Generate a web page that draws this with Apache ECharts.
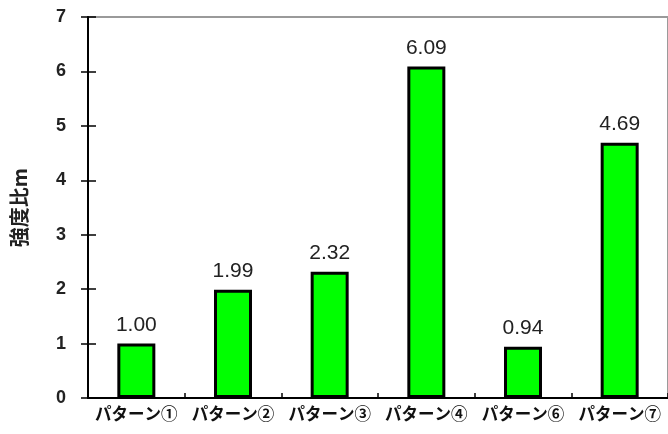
<!DOCTYPE html>
<html>
<head>
<meta charset="utf-8">
<script src="https://cdn.jsdelivr.net/npm/echarts@6/dist/echarts.min.js"></script>
<style>
  html, body { margin: 0; padding: 0; background: #fff; }
  #chart { width: 668px; height: 434px; }
</style>
</head>
<body>
<div id="chart"></div>
<script>
// Strength ratio per pattern
const categories = ['パターン①', 'パターン②', 'パターン③', 'パターン④', 'パターン⑥', 'パターン⑦'];
const ratios = [1.00, 1.99, 2.32, 6.09, 0.94, 4.69];
const yTicks = [0, 1, 2, 3, 4, 5, 6, 7];

const chart = echarts.init(document.getElementById('chart'));
const labelFont = 'Liberation Sans, Arial, sans-serif';

chart.setOption({
  animation: false,
  grid: {
    left: 88, right: -2, top: 17, bottom: 36,
    show: true, borderColor: '#9a9a9a', borderWidth: 2, backgroundColor: 'transparent'
  },
  xAxis: {
    type: 'category',
    data: categories,
    axisLine: { lineStyle: { color: '#000', width: 2 } },
    axisTick: { show: true, inside: true, length: 5, lineStyle: { color: '#000', width: 1.5 } },
    axisLabel: { interval: 0, color: '#111', fontSize: 16.5, fontWeight: 'bold', fontFamily: 'Noto Sans CJK JP', margin: 7 }
  },
  yAxis: [
    {
      type: 'value',
      min: yTicks[0], max: yTicks[yTicks.length - 1], interval: 1,
      name: '強度比m',
      nameLocation: 'middle',
      nameGap: 59,
      nameRotate: 90,
      nameTextStyle: { color: '#222', fontSize: 20, fontWeight: 'bold', fontFamily: 'Noto Sans CJK JP' },
      axisLine: { show: true, lineStyle: { color: '#000', width: 2 } },
      axisTick: { show: true, length: 7, lineStyle: { color: '#000', width: 1.5 } },
      axisLabel: { color: '#222', fontSize: 18, fontWeight: 'bold', fontFamily: labelFont, margin: 22 },
      splitLine: { show: false }
    },
    {
      type: 'value',
      position: 'left',
      min: yTicks[0], max: yTicks[yTicks.length - 1], interval: 1,
      axisLine: { show: false },
      axisTick: { show: true, inside: true, length: 8, lineStyle: { color: '#000', width: 1.5 } },
      axisLabel: { show: false },
      splitLine: { show: false }
    }
  ],
  series: [{
    type: 'bar',
    data: ratios,
    barWidth: 38,
    itemStyle: { color: '#00ff00', borderColor: '#000', borderWidth: 3 },
    label: {
      show: true,
      position: 'top',
      distance: 8,
      formatter: p => p.value.toFixed(2),
      color: '#222',
      fontSize: 21,
      fontFamily: labelFont
    }
  }]
});
</script>
</body>
</html>
